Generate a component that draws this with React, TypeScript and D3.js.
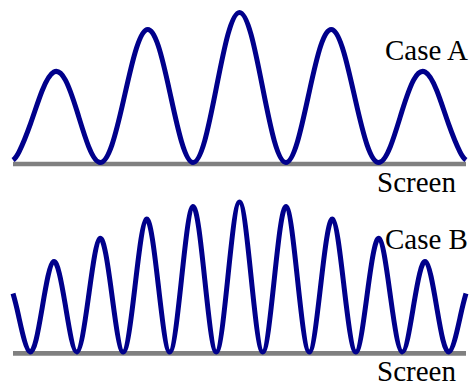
import React from "react";
import * as d3 from "d3";

// Case A: positions in fringe units, relative intensity
const caseAPos = [
  -2.44, -2.375, -2.25, -2.125, -2.0, -1.875, -1.75, -1.625, -1.5, -1.375, -1.25, -1.125,
  -1.0, -0.875, -0.75, -0.625, -0.5, -0.375, -0.25, -0.125, 0,
  0.125, 0.25, 0.375, 0.5, 0.625, 0.75, 0.875, 1.0, 1.125, 1.25, 1.375, 1.5,
  1.625, 1.75, 1.875, 2.0, 2.125, 2.25, 2.375, 2.44,
];
const caseAInt = [
  0.016, 0.071, 0.261, 0.48, 0.603, 0.549, 0.341, 0.106, 0, 0.116, 0.413, 0.732,
  0.886, 0.778, 0.467, 0.14, 0, 0.144, 0.496, 0.852, 1.0,
  0.852, 0.496, 0.144, 0, 0.14, 0.467, 0.778, 0.886, 0.732, 0.413, 0.116, 0,
  0.106, 0.341, 0.549, 0.603, 0.48, 0.261, 0.071, 0.016,
];

// Case B: positions in fringe units, relative intensity
const caseBPos = [
  -4.87, -4.75, -4.5, -4.25, -4.0, -3.75, -3.5, -3.25, -3.0, -2.75, -2.5, -2.25,
  -2.0, -1.75, -1.5, -1.25, -1.0, -0.75, -0.5, -0.25, 0,
  0.25, 0.5, 0.75, 1.0, 1.25, 1.5, 1.75, 2.0, 2.25, 2.5, 2.75, 3.0,
  3.25, 3.5, 3.75, 4.0, 4.25, 4.5, 4.75, 4.87,
];
const caseBInt = [
  0.39, 0.241, 0, 0.281, 0.603, 0.322, 0, 0.36, 0.758, 0.396, 0, 0.429,
  0.886, 0.456, 0, 0.477, 0.97, 0.492, 0, 0.499, 1.0,
  0.499, 0, 0.492, 0.97, 0.477, 0, 0.456, 0.886, 0.429, 0, 0.396, 0.758,
  0.36, 0, 0.322, 0.603, 0.281, 0, 0.241, 0.39,
];

const caseLabels = ["Case A", "Case B"];
const screenLabel = "Screen";

const W = 476;
const H = 383;
const X0 = 13;
const X1 = 466;
const AMP = 150;
const BLUE = "#00008b";
const GRAY = "#808080";

type Panel = {
  pos: number[];
  val: number[];
  zero: number;
  screenY: number;
  label: string;
  labelY: number;
  screenLabelY: number;
};

const panels: Panel[] = [
  { pos: caseAPos, val: caseAInt, zero: 162.5, screenY: 164, label: caseLabels[0], labelY: 60, screenLabelY: 192 },
  { pos: caseBPos, val: caseBInt, zero: 352, screenY: 353.4, label: caseLabels[1], labelY: 249, screenLabelY: 380.5 },
];

function PanelView({ p }: { p: Panel }) {
  const ext = d3.extent(p.pos) as [number, number];
  const x = d3.scaleLinear().domain(ext).range([X0, X1]);
  const y = d3.scaleLinear().domain([0, 1]).range([p.zero, p.zero - AMP]);
  const pts = p.pos.map((u, i) => [u, p.val[i]] as [number, number]);
  const line = d3
    .line<[number, number]>()
    .x((d) => x(d[0]))
    .y((d) => y(d[1]))
    .curve(d3.curveNatural);
  return (
    <g>
      <line x1={X0} x2={X1} y1={p.screenY} y2={p.screenY} stroke={GRAY} strokeWidth={4.6} />
      <path d={line(pts) || ""} fill="none" stroke={BLUE} strokeWidth={5} strokeLinejoin="round" />
      <text x={385} y={p.labelY} fontFamily="Liberation Serif" fontSize={29} fill="#000">
        {p.label}
      </text>
      <text x={377} y={p.screenLabelY} fontFamily="Liberation Serif" fontSize={29} fill="#000">
        {screenLabel}
      </text>
    </g>
  );
}

export default function App() {
  return (
    <svg
      width={W}
      height={H}
      viewBox={`0 0 ${W} ${H}`}
      style={{ position: "absolute", left: 0, top: 0, display: "block", background: "#fff" }}
    >
      {panels.map((p, i) => (
        <PanelView key={i} p={p} />
      ))}
    </svg>
  );
}
